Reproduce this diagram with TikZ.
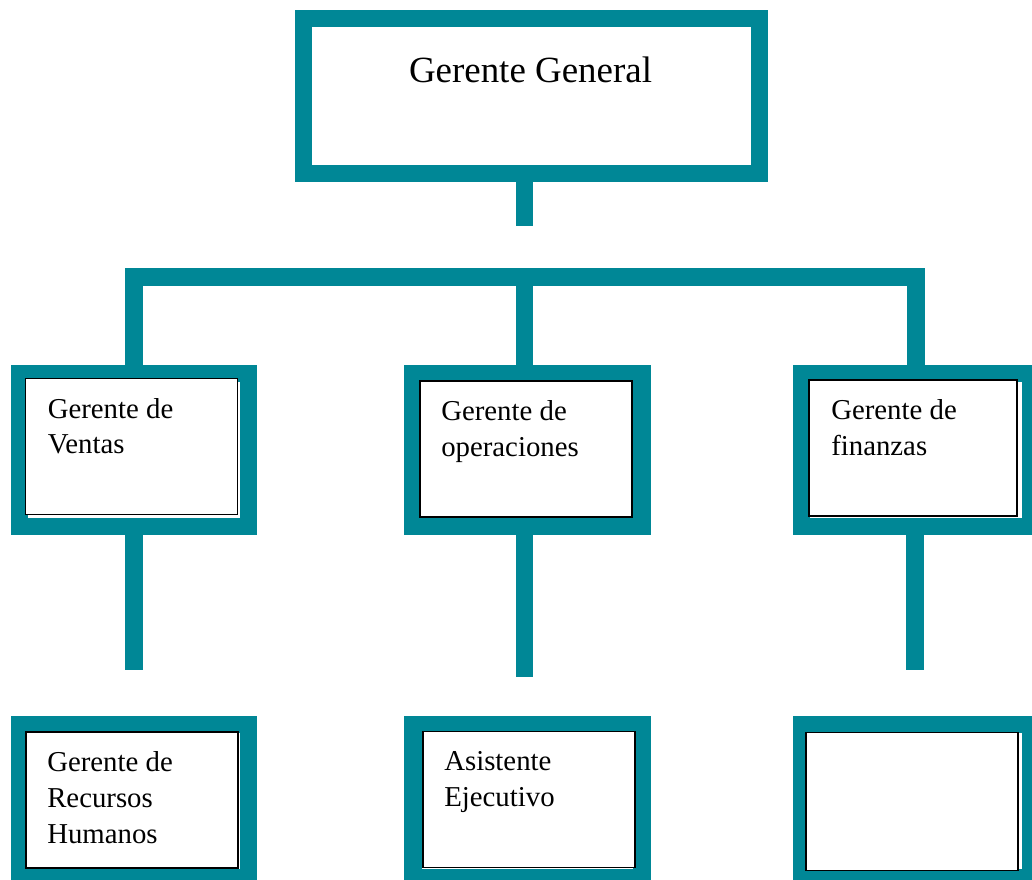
\documentclass[tikz,border=0pt]{standalone}
\usepackage{fontspec}
\setmainfont{Liberation Serif}
\definecolor{orgteal}{RGB}{0,135,150}
\tikzset{
    frame/.style={draw=orgteal, line width=13pt, inner sep=0pt, outer sep=0pt,
        minimum width=171.75pt, minimum height=114.75pt},
    card/.style={draw=black, fill=white, line width=0.8pt, inner sep=0pt, outer sep=0pt,
        minimum width=159pt, minimum height=102pt},
    link/.style={draw=orgteal, line width=13pt},
    cardtext/.style={anchor=north west, inner sep=0pt, align=left,
        font=\fontsize{21.6}{26.8}\selectfont},
}

\begin{document}
\begin{tikzpicture}[x=0.75pt, y=-0.75pt]
  \clip (0,0) rectangle (1032,879);
  \fill[white] (0,0) rectangle (1032,879);

  % Gerente General
  \node[frame, minimum width=342pt, minimum height=116.25pt] (gg) at (531.5,96) {};
  \node[font=\fontsize{27.7}{33}\selectfont, anchor=base, inner sep=0pt] (ggtext) at (530.5,82) {Gerente General};

  % free ends of the stems
  \coordinate (sg) at (524.5,226);
  \coordinate (bar) at (0,277);
  \coordinate (sv) at (134,670);
  \coordinate (so) at (524.5,677);
  \coordinate (sf) at (915,670);

  % Gerentes
  \node[frame] (fv) at (134,450) {};
  \node[frame] (fo) at (527.5,450) {};
  \node[frame] (ff) at (916,450) {};
  \node[card] (cv) at (131.5,446.5) {};
  \node[card] (co) at (526,449) {};
  \node[card, minimum width=156pt] (cf) at (913,448) {};

  % lower row
  \node[frame] (fh) at (134,801) {};
  \node[frame] (fa) at (527.5,801) {};
  \node[frame] (fe) at (916,801) {};
  \node[card] (ch) at (132,800) {};
  \node[card] (ca) at (529,799.5) {};
  \node[card, minimum height=104pt] (ce) at (912,801.5) {};

  % Connectors
  \draw[link] (gg.south -| sg) -- (sg);
  \draw[link] (fv.north) -- (fv.north |- bar) -- (ff.north |- bar) -- (ff.north);
  \draw[link] (fo.north -| so) -- (so |- bar);
  \draw[link] (fv.south) -- (sv);
  \draw[link] (fo.south -| so) -- (so);
  \draw[link] (ff.south -| sf) -- (sf);

  % Labeling
  \node[cardtext] (tv) at ([xshift=16.5pt,yshift=-14.5pt]cv.north west) {Gerente de\\Ventas};
  \node[cardtext] (to) at ([xshift=15.75pt,yshift=-14.5pt]co.north west) {Gerente de\\operaciones};
  \node[cardtext] (tf) at ([xshift=16.5pt,yshift=-14.5pt]cf.north west) {Gerente de\\finanzas};
  \node[cardtext] (th) at ([xshift=15.75pt,yshift=-14.5pt]ch.north west) {Gerente de\\Recursos\\Humanos};
  \node[cardtext] (ta) at ([xshift=15.75pt,yshift=-15pt]ca.north west) {Asistente\\Ejecutivo};
\end{tikzpicture}
\end{document}
